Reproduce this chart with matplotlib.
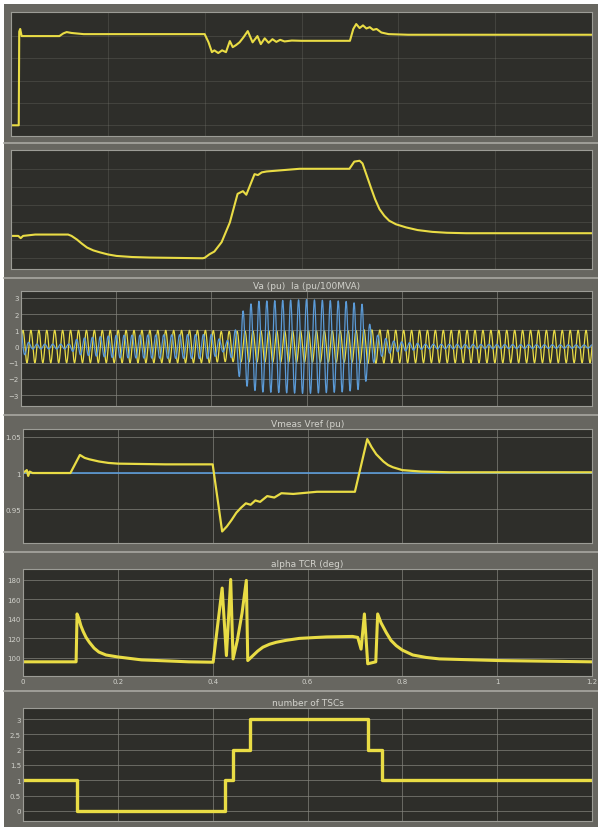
import numpy as np
import matplotlib
matplotlib.use("Agg")
import matplotlib.pyplot as plt
from matplotlib.patches import Rectangle

# ---- signal data (time in s) ----
# panel 1: bus voltage trace
t_v1 = [0.0, 0.016, 0.017, 0.019, 0.022, 0.026, 0.10, 0.108, 0.115, 0.125, 0.15, 0.40,
        0.408, 0.415, 0.42, 0.428, 0.436, 0.444, 0.452, 0.458, 0.465, 0.472, 0.48, 0.489,
        0.499, 0.509, 0.516, 0.524, 0.532, 0.54, 0.548, 0.556, 0.565, 0.58, 0.60, 0.70,
        0.707, 0.713, 0.72, 0.727, 0.734, 0.741, 0.748, 0.755, 0.765, 0.78, 0.82, 1.2]
v1 = [0.0, 0.0, 1.05, 1.08, 1.0, 1.0, 1.0, 1.03, 1.045, 1.035, 1.022, 1.022,
      0.93, 0.82, 0.84, 0.81, 0.84, 0.82, 0.944, 0.876, 0.90, 0.93, 0.985, 1.056,
      0.93, 1.0, 0.91, 0.975, 0.925, 0.965, 0.935, 0.958, 0.94, 0.95, 0.947, 0.947,
      1.08, 1.135, 1.09, 1.12, 1.085, 1.10, 1.07, 1.08, 1.04, 1.022, 1.015, 1.015]

# panel 2: SVC susceptance trace
t_b = [0.0, 0.015, 0.02, 0.025, 0.05, 0.118, 0.125, 0.136, 0.146, 0.157, 0.17, 0.183,
       0.2, 0.218, 0.25, 0.287, 0.396, 0.40, 0.41, 0.42, 0.435, 0.452, 0.468, 0.479,
       0.486, 0.503, 0.51, 0.518, 0.528, 0.596, 0.699, 0.709, 0.72, 0.726, 0.735,
       0.744, 0.752, 0.761, 0.771, 0.781, 0.795, 0.816, 0.84, 0.87, 0.9, 0.94, 1.2]
b = [0.25, 0.25, 0.225, 0.25, 0.265, 0.265, 0.25, 0.21, 0.165, 0.12, 0.088, 0.067,
     0.043, 0.026, 0.014, 0.008, 0.0, 0.005, 0.045, 0.075, 0.18, 0.40, 0.72, 0.75,
     0.71, 0.94, 0.93, 0.96, 0.97, 1.0, 1.0, 1.08, 1.09, 1.06, 0.92,
     0.78, 0.66, 0.55, 0.475, 0.42, 0.38, 0.345, 0.315, 0.295, 0.285, 0.28, 0.28]

# panel 3: Va / Ia envelopes (pu), 60 Hz
f_sys = 60.0
t_va_env = [0.0, 0.40, 0.42, 0.50, 0.70, 0.72, 0.80, 1.2]
va_env = [1.0, 1.0, 0.93, 0.96, 0.97, 1.04, 1.0, 1.0]
t_ia_env = [0.0, 0.005, 0.02, 0.10, 0.12, 0.20, 0.40, 0.43, 0.45, 0.46, 0.48, 0.50,
            0.60, 0.68, 0.72, 0.735, 0.75, 0.78, 0.85, 1.2]
ia_env = [1.2, 0.6, 0.15, 0.15, 0.5, 0.7, 0.75, 0.25, 1.0, 2.0, 2.6, 2.8,
          2.9, 2.8, 2.6, 1.2, 0.7, 0.35, 0.15, 0.1]

# panel 4: Vmeas / Vref (pu)
t_vm = [0.0, 0.008, 0.011, 0.014, 0.02, 0.10, 0.12, 0.13, 0.14, 0.16, 0.18, 0.20,
        0.30, 0.40, 0.42, 0.43, 0.44, 0.45, 0.46, 0.47, 0.48, 0.49, 0.50, 0.515,
        0.53, 0.545, 0.57, 0.62, 0.70, 0.726, 0.735, 0.745, 0.76, 0.77, 0.78, 0.80,
        0.84, 0.9, 1.2]
vm = [1.0, 1.004, 0.996, 1.002, 1.0, 1.0, 1.025, 1.021, 1.019, 1.016, 1.014, 1.013,
      1.012, 1.012, 0.919, 0.926, 0.935, 0.945, 0.952, 0.958, 0.956, 0.962, 0.96, 0.968,
      0.966, 0.972, 0.971, 0.974, 0.974, 1.047, 1.036, 1.026, 1.016, 1.011, 1.008, 1.004,
      1.002, 1.001, 1.001]
t_vref = [0.0, 1.2]
vref = [1.0, 1.0]

# panel 5: alpha TCR (deg)
t_alpha = [0.0, 0.112, 0.114, 0.118, 0.122, 0.127, 0.133, 0.14, 0.15, 0.16, 0.175,
           0.20, 0.25, 0.30, 0.35, 0.401, 0.420, 0.429, 0.438, 0.443, 0.452, 0.462,
           0.471, 0.474, 0.485, 0.495, 0.506, 0.52, 0.534, 0.555, 0.583, 0.64, 0.695,
           0.706, 0.713, 0.720, 0.727, 0.744, 0.748, 0.755, 0.766, 0.776, 0.787, 0.80,
           0.822, 0.85, 0.878, 1.004, 1.2]
alpha = [96, 96, 145, 140, 133, 127, 121, 116, 110, 106, 103,
         101, 98, 97, 96, 95.6, 171.5, 102.4, 180.3, 99, 118, 146,
         179.3, 97.3, 102.4, 107, 111, 114, 116, 118, 120, 121.5, 122,
         121, 109, 145, 94, 96, 145, 136, 126, 118, 112.6, 108,
         103, 100.5, 99, 97.3, 96]

# panel 6: number of TSCs in service
t_tsc = [0.0, 0.113, 0.427, 0.443, 0.478, 0.727, 0.758, 1.2]
n_tsc = [1, 0, 1, 2, 3, 2, 1, 1]

# ---- scope look ----
BG_FRAME = "#676660"
BG_AXES = "#2e2e2a"
GRID = "#85857f"
YELLOW = "#e9dc45"
BLUE = "#5b9bd8"
TXT = "#d2d2cc"

plt.rcParams["font.family"] = ["DejaVu Sans"]

fig = plt.figure(figsize=(5.98, 8.28), dpi=100, facecolor="white")
fig.add_artist(Rectangle((4 / 598, 0), 1, 1 - 5 / 828, transform=fig.transFigure,
                         facecolor=BG_FRAME, edgecolor="none", zorder=-10))
# light separators between scope windows
for ysep in [144, 279, 416, 553, 692]:
    fig.add_artist(plt.Line2D([4 / 598, 1], [1 - ysep / 828] * 2, color="#a8a8a2",
                              lw=1.2, transform=fig.transFigure, zorder=-5))


def make_ax(left_px, top_px, bottom_px, right_px=592):
    ax = fig.add_axes([left_px / 598, 1 - bottom_px / 828,
                       (right_px - left_px) / 598, (bottom_px - top_px) / 828])
    ax.set_facecolor(BG_AXES)
    for s in ax.spines.values():
        s.set_color("#9c9c96")
        s.set_linewidth(0.8)
    ax.grid(True, color=GRID, lw=0.6, alpha=0.8)
    ax.tick_params(colors=TXT, labelsize=5, length=0, pad=1.5)
    ax.set_xlim(0, 1.2)
    ax.set_xticks(np.arange(0, 1.21, 0.2))
    ax.set_xticklabels([])
    return ax


# panel 1
ax1 = make_ax(11, 13, 137)
ax1.plot(t_v1, v1, color=YELLOW, lw=1.5)
ax1.set_ylim(-0.12, 1.27)
ax1.set_yticks([0, 0.25, 0.5, 0.75, 1.0])
ax1.set_yticklabels([])
ax1.grid(True, color=GRID, lw=0.5, alpha=0.35)

# panel 2
ax2 = make_ax(11, 151, 270)
ax2.plot(t_b, b, color=YELLOW, lw=1.5)
ax2.set_ylim(-0.12, 1.21)
ax2.set_yticks([0, 0.2, 0.4, 0.6, 0.8, 1.0])
ax2.set_yticklabels([])
ax2.grid(True, color=GRID, lw=0.5, alpha=0.35)

# panel 3
ax3 = make_ax(21, 292, 407)
t_fine = np.linspace(0, 1.2, 6000)
va = np.interp(t_fine, t_va_env, va_env) * np.sin(2 * np.pi * f_sys * t_fine)
ia = np.interp(t_fine, t_ia_env, ia_env) * np.cos(2 * np.pi * f_sys * t_fine)
ax3.plot(t_fine, va, color=YELLOW, lw=0.9)
ax3.plot(t_fine, ia, color=BLUE, lw=0.9)
ax3.set_ylim(-3.67, 3.43)
ax3.set_yticks([-3, -2, -1, 0, 1, 2, 3])
ax3.set_title("Va (pu)  Ia (pu/100MVA)", color=TXT, fontsize=6.5, pad=2)

# panel 4
ax4 = make_ax(23, 430, 544)
ax4.plot(t_vref, vref, color=BLUE, lw=1.2)
ax4.plot(t_vm, vm, color=YELLOW, lw=1.6)
ax4.set_ylim(0.903, 1.061)
ax4.set_yticks([0.95, 1.0, 1.05])
ax4.set_yticklabels(["0.95", "1", "1.05"])
ax4.set_title("Vmeas Vref (pu)", color=TXT, fontsize=6.5, pad=2)

# panel 5
ax5 = make_ax(23, 570, 677)
ax5.plot(t_alpha, alpha, color=YELLOW, lw=2.2)
ax5.set_ylim(81.5, 191)
ax5.set_yticks([100, 120, 140, 160, 180])
ax5.set_xticklabels(["0", "0.2", "0.4", "0.6", "0.8", "1", "1.2"])
ax5.set_title("alpha TCR (deg)", color=TXT, fontsize=6.5, pad=2)

# panel 6
ax6 = make_ax(23, 709, 822)
ax6.plot(t_tsc, n_tsc, color=YELLOW, lw=2.4, drawstyle="steps-post")
ax6.set_ylim(-0.33, 3.36)
ax6.set_yticks([0, 0.5, 1, 1.5, 2, 2.5, 3])
ax6.set_yticklabels(["0", "0.5", "1", "1.5", "2", "2.5", "3"])
ax6.set_title("number of TSCs", color=TXT, fontsize=6.5, pad=2)

fig.savefig("out.png", dpi=100, facecolor=fig.get_facecolor())
